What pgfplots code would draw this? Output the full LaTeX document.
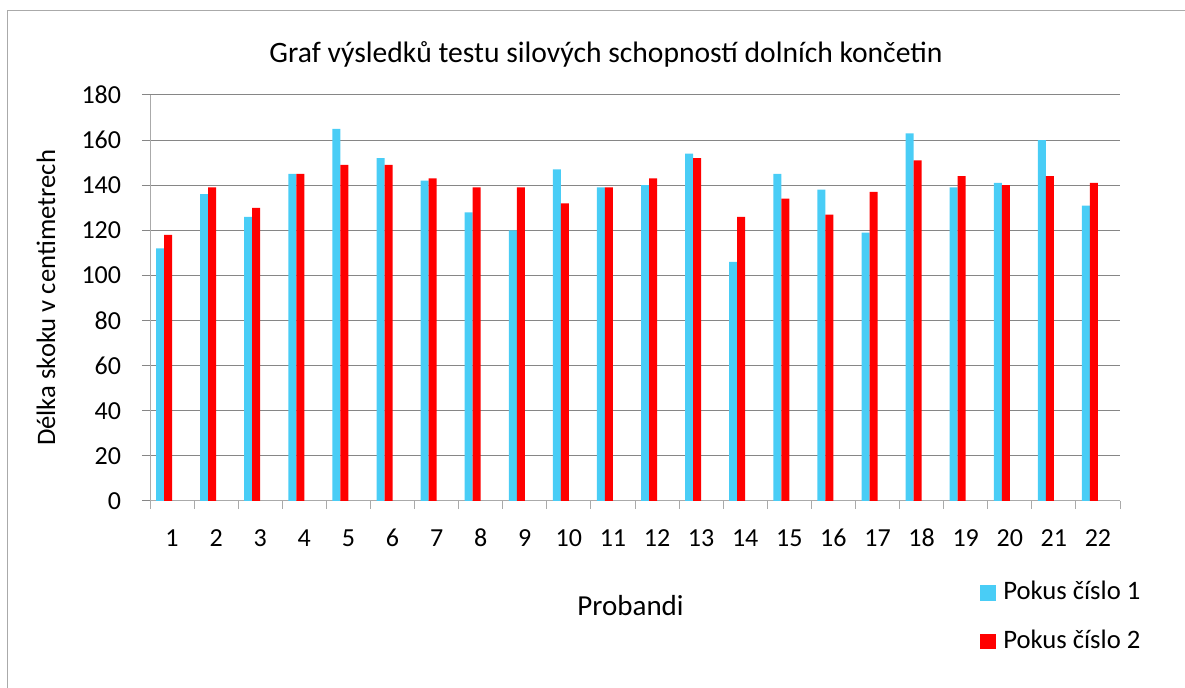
\documentclass[border=0pt]{standalone}
\usepackage{pgfplots}
\pgfplotsset{compat=1.18}
\usepackage{fontspec}
\setmainfont{Carlito}
\definecolor{pblue}{RGB}{73,205,246}
\definecolor{pred}{RGB}{255,0,0}
\definecolor{gridc}{RGB}{134,134,134}
\definecolor{axc}{RGB}{170,170,170}
\pgfplotstableread{
x p1 p2
1 112 118
2 136 139
3 126 130
4 145 145
5 165 149
6 152 149
7 142 143
8 128 139
9 120 139
10 147 132
11 139 139
12 140 143
13 154 152
14 106 126
15 145 134
16 138 127
17 119 137
18 163 151
19 139 144
20 141 140
21 160 144
22 131 141
}\datatable
\begin{document}
\begin{tikzpicture}[font=\fontsize{20}{24}\selectfont]
\path[use as bounding box] (0,0) rectangle (888.75pt,516pt);
\draw[color=axc, line width=0.75pt] (5.25pt,0) -- (5.25pt,507.75pt) -- (888.75pt,507.75pt);
\begin{axis}[
  at={(112.5pt,140.25pt)}, anchor=south west,
  width=727.5pt, height=304.5pt, scale only axis,
  xmin=0.5, xmax=22.5, ymin=0, ymax=180,
  ytick={0,20,...,180},
  xtick={1,...,22},
  minor xtick={0.5,1.5,...,22.5},
  axis x line=bottom, axis y line=left,
  axis line style={-, draw=axc, line width=0.75pt},
  tick align=outside,
  major tick length=6pt, minor tick length=6pt,
  xtick style={draw=none},
  minor x tick style={draw=axc, line width=0.75pt},
  ytick style={draw=gridc, line width=0.75pt},
  ymajorgrids, grid style={draw=gridc, line width=0.75pt},
  /pgf/number format/assume math mode=true,
  tick label style={font=\fontsize{19.5}{23}\selectfont},
  xticklabel style={anchor=base, yshift=-28pt},
  yticklabel style={anchor=east, inner sep=0pt, xshift=-15.5pt},
  legend style={at={(0.8557,-0.197)}, anchor=north west, draw=none, fill=none,
    inner sep=0pt, row sep=21pt, column sep=5.25pt,
    nodes={inner sep=0pt, anchor=base west},
    font=\fontsize{20}{24}\selectfont},
  legend cell align=left,
  legend image code/.code={\fill[#1] (0pt,-0.75pt) rectangle (12pt,10.75pt);},
]
\addplot[ybar, bar width=6pt, bar shift=-9pt, fill=pblue, draw=none] table[x=x, y=p1] {\datatable};
\addplot[ybar, bar width=6pt, bar shift=-3pt, fill=pred, draw=none] table[x=x, y=p2] {\datatable};
\legend{Pokus číslo 1, Pokus číslo 2}
\end{axis}
\node[anchor=base, font=\fontsize{22.2}{26}\selectfont] at (454.5pt,468.75pt) {Graf výsledků testu silových schopností dolních končetin};
\node[anchor=base, rotate=90] at (41.25pt,292.5pt) {Délka skoku v centimetrech};
\node[anchor=base, font=\fontsize{21.75}{26}\selectfont] at (472.9pt,54pt) {Probandi};
\end{tikzpicture}
\end{document}
